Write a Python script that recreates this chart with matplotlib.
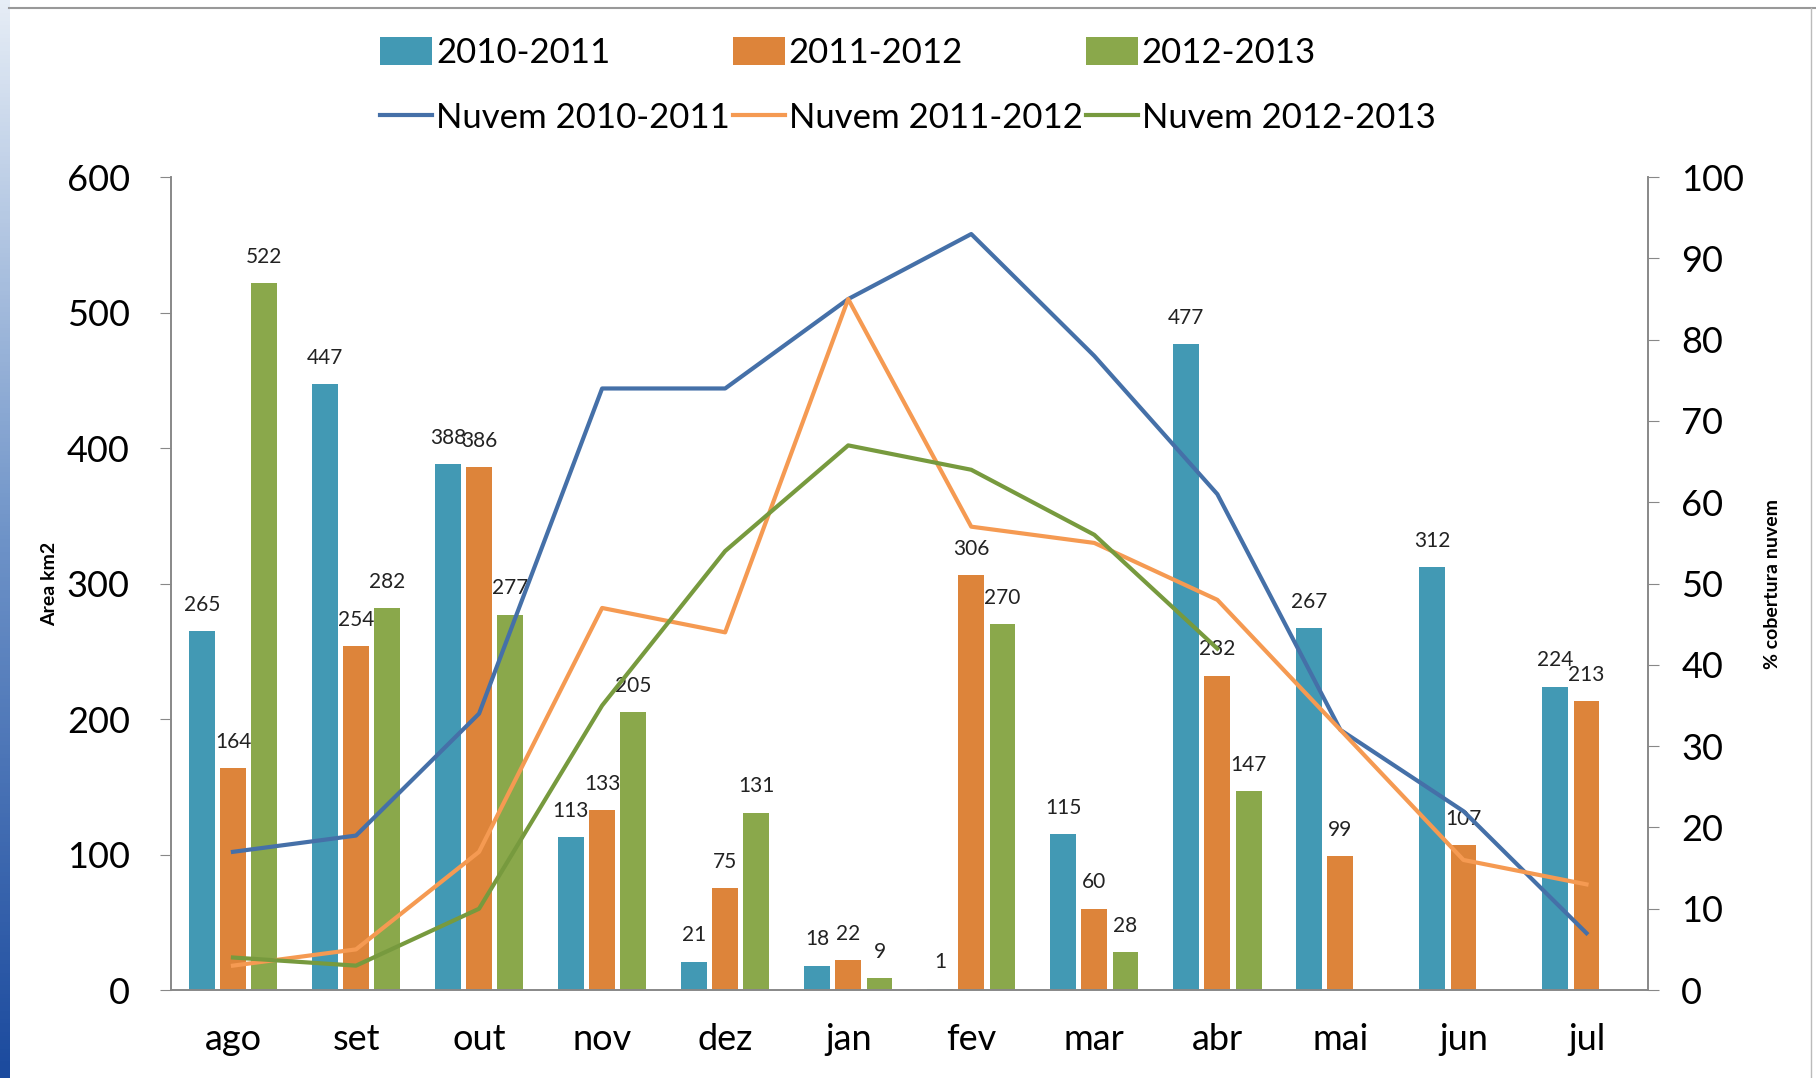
import numpy as np
import matplotlib.pyplot as plt

# -------------------------------
# Data
# -------------------------------
meses = ["ago", "set", "out", "nov", "dez", "jan", "fev", "mar", "abr", "mai", "jun", "jul"]

area_2010_2011 = [265, 447, 388, 113, 21, 18, 1, 115, 477, 267, 312, 224]
area_2011_2012 = [164, 254, 386, 133, 75, 22, 306, 60, 232, 99, 107, 213]
area_2012_2013 = [522, 282, 277, 205, 131, 9, 270, 28, 147, None, None, None]

nuvem_2010_2011 = [17, 19, 34, 74, 74, 85, 93, 78, 61, 32, 22, 7]
nuvem_2011_2012 = [3, 5, 17, 47, 44, 85, 57, 55, 48, 32, 16, 13]
nuvem_2012_2013 = [4, 3, 10, 35, 54, 67, 64, 56, 42, None, None, None]

series_bar = ["2010-2011", "2011-2012", "2012-2013"]
series_line = ["Nuvem 2010-2011", "Nuvem 2011-2012", "Nuvem 2012-2013"]

bar_colors = ["#4299B4", "#DD843A", "#8AA84B"]
line_colors = ["#4570A8", "#F59A52", "#779A3E"]

font = "Lato"
plt.rcParams["font.family"] = [font, "DejaVu Sans"]

fig = plt.figure(figsize=(18.16, 10.78), dpi=100)
ax = fig.add_axes([0.0944, 0.0816, 0.8131, 0.7541])
ax2 = ax.twinx()

x = np.arange(len(meses))
w = 0.21
off = 0.254

handles_bar = []
for i, (vals, name, c) in enumerate(zip([area_2010_2011, area_2011_2012, area_2012_2013],
                                        series_bar, bar_colors)):
    xs = [xx + (i - 1) * off for xx, v in zip(x, vals) if v is not None]
    vs = [v for v in vals if v is not None]
    b = ax.bar(xs, vs, width=w, color=c, label=name, zorder=2)
    handles_bar.append(b)
    for xx, v in zip(xs, vs):
        ax.text(xx, v + 12, str(v), ha="center", va="bottom", fontsize=15,
                color="#222222", zorder=5)

handles_line = []
for vals, name, c in zip([nuvem_2010_2011, nuvem_2011_2012, nuvem_2012_2013],
                         series_line, line_colors):
    xs = [xx for xx, v in zip(x, vals) if v is not None]
    vs = [v for v in vals if v is not None]
    l, = ax2.plot(xs, vs, color=c, lw=3, label=name, zorder=3)
    handles_line.append(l)

ax.set_xlim(-0.5, len(meses) - 0.5)
ax.set_ylim(0, 600)
ax2.set_ylim(0, 100)
ax.set_yticks(range(0, 601, 100))
ax2.set_yticks(range(0, 101, 10))
ax.set_xticks(x)
ax.set_xticklabels(meses, fontsize=26)
ax.tick_params(axis="x", length=0, pad=24)
ax.tick_params(axis="y", labelsize=26, length=8, color="#888888", pad=22)
ax2.tick_params(axis="y", labelsize=26, length=8, color="#888888", pad=16)

for a in (ax, ax2):
    a.spines["top"].set_visible(False)
    for s in ("left", "right", "bottom"):
        a.spines[s].set_color("#888888")
        a.spines[s].set_linewidth(1.2)

ax.set_ylabel("Area km2", fontsize=14, fontweight="bold", labelpad=6)
ax2.set_ylabel("% cobertura nuvem", fontsize=14, fontweight="bold", labelpad=14)

# legend: bars on first row, lines on second row
order = []
for b, l in zip(handles_bar, handles_line):
    order += [b, l]
fig.legend(order, [h.get_label() for h in order], ncol=3, loc="upper center",
           bbox_to_anchor=(0.5, 0.995), frameon=False,
           prop={"family": [font], "size": 25},
           handlelength=1.5, handletextpad=0.1, columnspacing=0.1,
           labelspacing=0.95, handleheight=0.9)

# slide frame: gradient strip on left, thin gray border
grad = fig.add_axes([0, 0, 0.005, 1])
grad.imshow(np.linspace(0, 1, 256).reshape(-1, 1), aspect="auto",
            cmap=plt.matplotlib.colors.LinearSegmentedColormap.from_list(
                "g", ["#E6EDF6", "#6E93C8", "#1B4A9E"]))
grad.set_axis_off()
fig.add_artist(plt.Line2D([0.005, 1], [0.9925, 0.9925], color="#999999", lw=1.5))
fig.add_artist(plt.Line2D([0.997, 0.997], [0, 0.9925], color="#bbbbbb", lw=1))

fig.savefig("out.png", dpi=100)
